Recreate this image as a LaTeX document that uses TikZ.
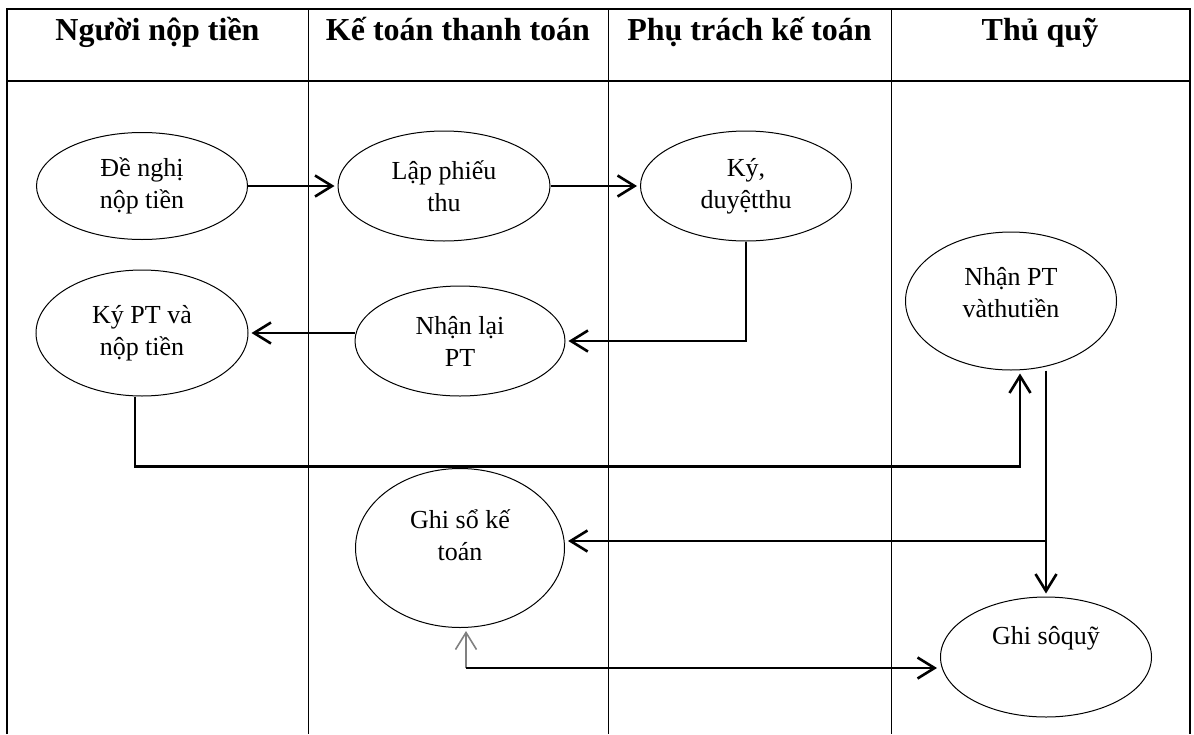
\documentclass[tikz,border=0pt]{standalone}
\usepackage{fontspec}
\setmainfont{Liberation Serif}
\usetikzlibrary{arrows.meta,shapes.geometric}
\tikzset{
	>={Straight Barb[length=8.5pt,width=10.5pt]}
}
\newcommand{\padbelow}[1]{\rule[-#1]{0pt}{#1}}

\begin{document}
\begin{tikzpicture}[
x = 0.5pt,
y = -0.5pt,
every node/.style = {
	font = \fontsize{13}{16}\selectfont,
	align = center,
},
head/.style = {
	font = \fontsize{16}{19}\selectfont\bfseries,
	anchor = base,
},
proc/.style = {
	draw,
	ellipse,
	line width = 0.5pt,
	inner sep = 0pt,
},
flow/.style = {
	->,
	line width = 1.3pt,
	shorten > = 1.5pt,
},
]

\useasboundingbox (0,0) rectangle (1194,734);

% lanes
\draw[line width=0.6pt] (7,734) -- (7,9) -- (1190,9) -- (1190,734);
\draw[line width=0.6pt] (7,81) -- (1190,81);
\foreach \x in {308,608,891}
	\draw[line width=0.5pt] (\x,9) -- (\x,734);

\node[head] (nguoinop) at (157.5,40) {Người nộp tiền};
\node[head] (ketoantt) at (458,40) {Kế toán thanh toán};
\node[head] (phutrach) at (749.5,40) {Phụ trách kế toán};
\node[head] (thuquy) at (1040,40) {Thủ quỹ};

% steps
\node[proc, minimum width=105.5pt, minimum height=53.5pt] (denghi) at (142,186) {Đề nghị\\nộp tiền};
\node[proc, minimum width=106pt, minimum height=55pt] (lapphieu) at (444,186) {Lập phiếu\\thu};
\node[proc, minimum width=105.5pt, minimum height=55pt] (kyduyet) at (746,186) {Ký,\\duyệtthu};
\node[proc, minimum width=106pt, minimum height=63pt] (kypt) at (142,333) {Ký PT và\\nộp tiền};
\node[proc, minimum width=105pt, minimum height=55pt] (nhanlai) at (460,341) {Nhận lại\\PT};
\node[proc, minimum width=105.5pt, minimum height=69pt] (nhanpt) at (1011,301) {Nhận PT\\vàthutiền\padbelow{8.5pt}};
\node[proc, minimum width=104.5pt, minimum height=79.5pt] (ghiso) at (460,548) {Ghi sổ kế\\toán\padbelow{12.5pt}};
\node[proc, minimum width=105.5pt, minimum height=60pt] (ghiquy) at (1046,657) {Ghi sôquỹ\padbelow{22pt}};

\coordinate (ghivao) at ([yshift=3.5pt]ghiso.east);
\coordinate (ghigoc) at ([xshift=3pt,yshift=-20pt]ghiso.south);

% flows
\draw[flow] (denghi) -- (lapphieu);
\draw[flow] (lapphieu) -- (kyduyet);
\draw[flow] (kyduyet.south) |- (nhanlai.east);
\draw[flow] (nhanlai.west |- kypt.east) -- (kypt.east);
\draw[flow] ([xshift=-3.5pt]kypt.south) -- ++(0,70) -| ([xshift=4.5pt]nhanpt.south);
\draw[flow] (nhanpt.south -| ghiquy.north) -- (ghiquy.north);
\draw[flow] (ghivao -| ghiquy.north) -- (ghivao);
\draw[->, gray, line width=0.8pt, shorten >=1.5pt] (ghigoc) -- ([xshift=3pt]ghiso.south);
\draw[flow] (ghigoc) -- (ghigoc -| ghiquy.west);

\end{tikzpicture}
\end{document}
